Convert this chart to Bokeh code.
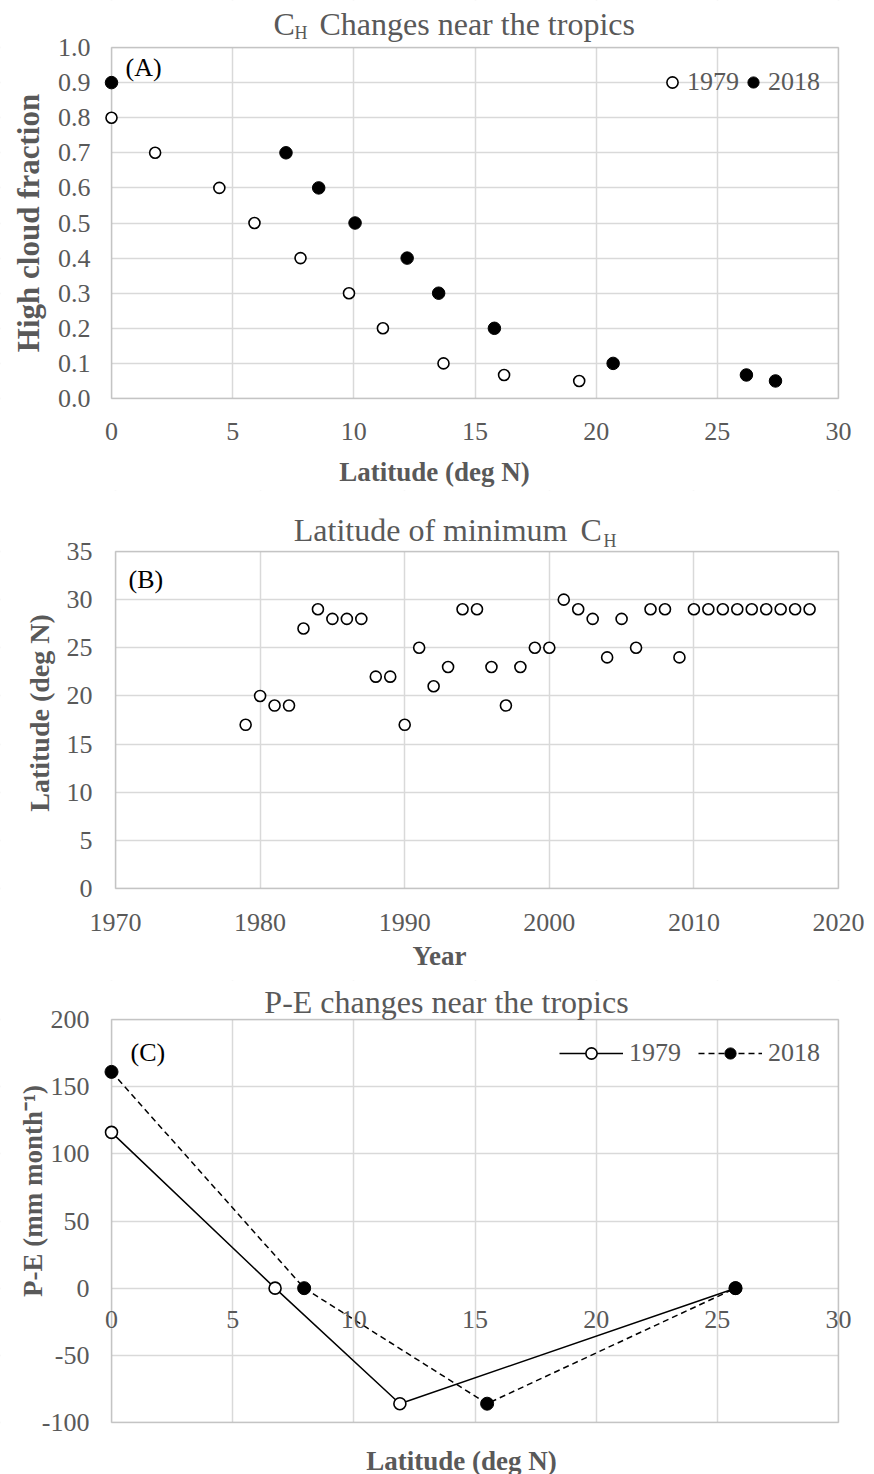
import math
from bokeh.plotting import figure
from bokeh.layouts import column
from bokeh.models import (Range1d, Label, Legend, LegendItem, BoxAnnotation,
                          FixedTicker, NumeralTickFormatter)
from bokeh.embed import file_html
from bokeh.resources import INLINE

# ---------------- data ----------------
# Panel A: high cloud fraction vs latitude
a_lat_1979 = [0.0, 1.8, 4.45, 5.9, 7.8, 9.8, 11.2, 13.7, 16.2, 19.3]
a_cf_1979 = [0.80, 0.70, 0.60, 0.50, 0.40, 0.30, 0.20, 0.10, 0.067, 0.05]
a_lat_2018 = [0.0, 7.2, 8.55, 10.05, 12.2, 13.5, 15.8, 20.7, 26.2, 27.4]
a_cf_2018 = [0.90, 0.70, 0.60, 0.50, 0.40, 0.30, 0.20, 0.10, 0.067, 0.05]
a_xticks = [0, 5, 10, 15, 20, 25, 30]
a_yticks = [0.0, 0.1, 0.2, 0.3, 0.4, 0.5, 0.6, 0.7, 0.8, 0.9, 1.0]

# Panel B: latitude of minimum CH per year
b_years = [1979, 1980, 1981, 1982, 1983, 1984, 1985, 1986, 1987, 1988,
           1989, 1990, 1991, 1992, 1993, 1994, 1995, 1996, 1997, 1998,
           1999, 2000, 2001, 2002, 2003, 2004, 2005, 2006, 2007, 2008,
           2009, 2010, 2011, 2012, 2013, 2014, 2015, 2016, 2017, 2018]
b_lat = [17, 20, 19, 19, 27, 29, 28, 28, 28, 22,
         22, 17, 25, 21, 23, 29, 29, 23, 19, 23,
         25, 25, 30, 29, 28, 24, 28, 25, 29, 29,
         24, 29, 29, 29, 29, 29, 29, 29, 29, 29]
b_xticks = [1970, 1980, 1990, 2000, 2010, 2020]
b_yticks = [0, 5, 10, 15, 20, 25, 30, 35]

# Panel C: P-E vs latitude
c_lat_1979 = [0.0, 6.75, 11.9, 25.75]
c_pe_1979 = [116, 0, -86, 0]
c_lat_2018 = [0.0, 7.95, 15.5, 25.75]
c_pe_2018 = [161, 0, -86, 0]
c_xticks = [0, 5, 10, 15, 20, 25, 30]
c_yticks = [-100, -50, 0, 50, 100, 150, 200]

# ---------------- style ----------------
FONT = "Liberation Serif"
GRAY = "#595959"
FRAME = "#666666"
GRID = "#d9d9d9"
TICK_SIZE = "26px"
TITLE_SIZE = "32px"
SUB_SIZE = "18px"
W = 874


def make_fig(height, x0, x1, px_left, px_right, y0, y1, px_top, px_bottom):
    """Figure whose frame fills the whole canvas; the data box [x0,x1]x[y0,y1]
    sits at the given pixel positions inside it."""
    ux = (px_right - px_left) / (x1 - x0)
    uy = (px_bottom - px_top) / (y1 - y0)
    xr = Range1d(x0 - px_left / ux, x1 + (W - px_right) / ux)
    yr = Range1d(y0 - (height - px_bottom) / uy, y1 + px_top / uy)
    p = figure(width=W, height=height, x_range=xr, y_range=yr,
               output_backend="svg", toolbar_location=None,
               min_border=0, min_border_left=0, min_border_right=0,
               min_border_top=0, min_border_bottom=0)
    p.title.visible = False
    p.outline_line_color = None
    p.background_fill_color = "white"
    p.border_fill_color = "white"
    for ax in (p.xaxis[0], p.yaxis[0]):
        ax.axis_line_color = None
        ax.major_tick_line_color = None
        ax.minor_tick_line_color = None
        ax.major_label_text_font = FONT
        ax.major_label_text_font_size = TICK_SIZE
        ax.major_label_text_color = GRAY
    p.xaxis.fixed_location = y0
    p.yaxis.fixed_location = x0
    p.grid.grid_line_color = GRID
    p.grid.grid_line_width = 1.5
    # white masks hide grid lines outside the data box
    for kw in (dict(right=x0), dict(left=x1), dict(bottom=y1), dict(top=y0)):
        p.add_layout(BoxAnnotation(fill_color="white", fill_alpha=1.0,
                                   line_color=None, level="underlay", **kw))
    p.add_layout(BoxAnnotation(left=x0, right=x1, bottom=y0, top=y1,
                               fill_alpha=0, fill_color=None,
                               line_color=FRAME, line_width=1.5,
                               level="underlay"))
    return p


def txt(p, x, y, text, dx, dy, size, align="left", color=GRAY, style="normal",
        baseline="middle", angle=0.0):
    p.add_layout(Label(x=x, y=y, text=text, x_offset=dx, y_offset=dy,
                       text_font=FONT, text_font_size=size, text_color=color,
                       text_font_style=style, text_align=align,
                       text_baseline=baseline, angle=angle))


# ---------------- Panel A ----------------
pA = make_fig(490, 0, 30, 111, 838, 0, 1.0, 47, 398)
pA.xaxis.ticker = FixedTicker(ticks=a_xticks)
pA.yaxis.ticker = FixedTicker(ticks=a_yticks)
pA.yaxis.formatter = NumeralTickFormatter(format="0.0")
pA.xaxis.major_label_standoff = 18
pA.yaxis.major_label_standoff = 15

rA1 = pA.scatter(a_lat_1979, a_cf_1979, marker="circle", size=11,
                 fill_color="white", line_color="black", line_width=1.6)
rA2 = pA.scatter(a_lat_2018, a_cf_2018, marker="circle", size=12.5,
                 fill_color="black", line_color="black")
legA = Legend(items=[LegendItem(label="1979", renderers=[rA1]),
                     LegendItem(label="2018", renderers=[rA2])],
              orientation="horizontal", location=(658, 393),
              border_line_color=None, background_fill_alpha=0,
              label_text_font=FONT, label_text_font_size=TICK_SIZE,
              label_text_color=GRAY, glyph_width=28, glyph_height=28,
              label_standoff=1, spacing=0, padding=4, margin=0)
pA.add_layout(legA)

txt(pA, 0, 1.0, "(A)", 14, -20, TICK_SIZE, color="black")
txt(pA, 0, 1.0, "C", 162, 24, TITLE_SIZE)
txt(pA, 0, 1.0, "H", 183, 15, SUB_SIZE)
txt(pA, 0, 1.0, "Changes near the tropics", 208, 24, TITLE_SIZE)
txt(pA, 0, 0, "Latitude (deg N)", 323, -73, "27px", align="center",
    style="bold")
txt(pA, 0, 0.5, "High cloud fraction", -83, 0, "31px", align="center",
    style="bold", angle=math.pi / 2)

# ---------------- Panel B ----------------
pB = make_fig(490, 1970, 2020, 115, 838, 0, 35, 61, 398)
pB.xaxis.ticker = FixedTicker(ticks=b_xticks)
pB.yaxis.ticker = FixedTicker(ticks=b_yticks)
pB.xaxis.major_label_standoff = 19
pB.yaxis.major_label_standoff = 17

pB.scatter(b_years, b_lat, marker="circle", size=11,
           fill_color="white", line_color="black", line_width=1.6)

txt(pB, 1970, 35, "(B)", 13, -28, TICK_SIZE, color="black")
txt(pB, 1970, 35, "Latitude of minimum", 452, 22, TITLE_SIZE, align="right")
txt(pB, 1970, 35, "C", 465, 22, TITLE_SIZE)
txt(pB, 1970, 35, "H", 488, 11, SUB_SIZE)
txt(pB, 1970, 0, "Year", 324, -67, "27px", align="center", style="bold")
txt(pB, 1970, 17.5, "Latitude (deg N)", -76, 7, "28px", align="center",
    style="bold", angle=math.pi / 2)

# ---------------- Panel C ----------------
pC = make_fig(494, 0, 30, 111, 838, -100, 200, 39, 442)
pC.xaxis.ticker = FixedTicker(ticks=c_xticks)
pC.yaxis.ticker = FixedTicker(ticks=c_yticks)
pC.yaxis.major_label_overrides = {v: str(v) for v in c_yticks}
pC.xaxis.fixed_location = 0
pC.xaxis.major_label_standoff = 17
pC.yaxis.major_label_standoff = 16

lC1 = pC.line(c_lat_1979, c_pe_1979, line_color="black", line_width=1.5)
sC1 = pC.scatter(c_lat_1979, c_pe_1979, marker="circle", size=12,
                 fill_color="white", line_color="black", line_width=1.6)
lC2 = pC.line(c_lat_2018, c_pe_2018, line_color="black", line_width=1.5,
              line_dash="6 4")
sC2 = pC.scatter(c_lat_2018, c_pe_2018, marker="circle", size=13,
                 fill_color="black", line_color="black")
legC = Legend(items=[LegendItem(label="1979", renderers=[lC1, sC1]),
                     LegendItem(label="2018", renderers=[lC2, sC2])],
              orientation="horizontal", location=(559, 406),
              border_line_color=None, background_fill_alpha=0,
              label_text_font=FONT, label_text_font_size=TICK_SIZE,
              label_text_color=GRAY, glyph_width=64, glyph_height=28,
              label_standoff=6, spacing=17, padding=4, margin=0)
pC.add_layout(legC)

txt(pC, 0, 200, "(C)", 19, -33, TICK_SIZE, color="black")
txt(pC, 0, 200, "P-E changes near the tropics", 335, 18, TITLE_SIZE, align="center")
txt(pC, 0, -100, "Latitude (deg N)", 350, -38, "27px", align="center",
    style="bold")
txt(pC, 0, 50, "P-E (mm month\u207b\u00b9)", -79, 30, "27px", align="center",
    style="bold", angle=math.pi / 2)

layout = column(pA, pB, pC)
open("out.html", "w").write(file_html(layout, INLINE))
